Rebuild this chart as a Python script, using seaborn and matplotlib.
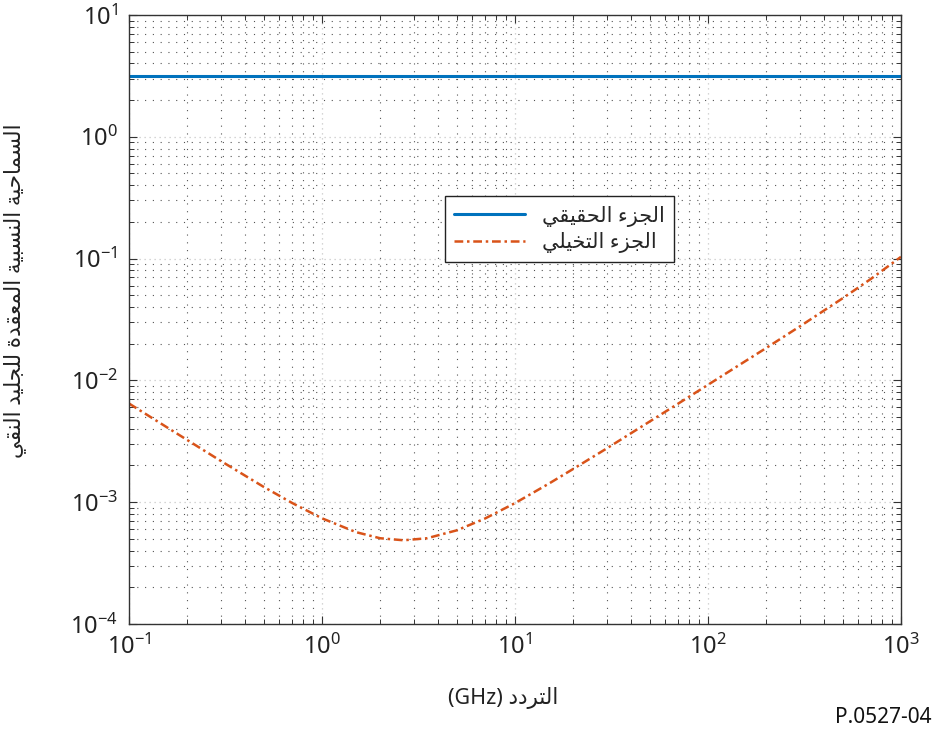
import numpy as np
import pandas as pd
import matplotlib
matplotlib.use("Agg")
import matplotlib.pyplot as plt
import seaborn as sns
from matplotlib.ticker import LogLocator, NullFormatter

# Werte
freq_real = [0.1, 1000]
eps_real = [3.17, 3.17]

freq_imag = [0.1, 0.15, 0.2, 0.3, 0.5, 0.7, 1, 1.5, 2, 2.65, 3.5, 5, 7, 10,
             15, 20, 30, 50, 70, 100, 150, 200, 300, 500, 700, 1000]
eps_imag = [0.00645, 0.00431, 0.00324, 0.00217, 0.00133, 0.000984, 0.000736,
            0.000567, 0.000505, 0.000486, 0.000505, 0.000587, 0.000734,
            0.000981, 0.00142, 0.00187, 0.00277, 0.0046, 0.00643, 0.00919,
            0.0138, 0.0184, 0.0278, 0.0473, 0.0682, 0.1033]

label_real = "الجزء الحقيقي"
label_imag = "الجزء التخيلي"
xlabel = "التردد"
ylabel = "السماحية النسبية المعقدة للجليد النقي"

# Arabische Buchstaben: isoliert, final, initial, medial
FORMS = {
    'ا': ('\uFE8D', '\uFE8E', None, None),
    'ء': ('\uFE80', None, None, None),
    'ب': ('\uFE8F', '\uFE90', '\uFE91', '\uFE92'),
    'ة': ('\uFE93', '\uFE94', None, None),
    'ت': ('\uFE95', '\uFE96', '\uFE97', '\uFE98'),
    'ج': ('\uFE9D', '\uFE9E', '\uFE9F', '\uFEA0'),
    'ح': ('\uFEA1', '\uFEA2', '\uFEA3', '\uFEA4'),
    'خ': ('\uFEA5', '\uFEA6', '\uFEA7', '\uFEA8'),
    'د': ('\uFEA9', '\uFEAA', None, None),
    'ر': ('\uFEAD', '\uFEAE', None, None),
    'ز': ('\uFEAF', '\uFEB0', None, None),
    'س': ('\uFEB1', '\uFEB2', '\uFEB3', '\uFEB4'),
    'ع': ('\uFEC9', '\uFECA', '\uFECB', '\uFECC'),
    'ق': ('\uFED5', '\uFED6', '\uFED7', '\uFED8'),
    'ل': ('\uFEDD', '\uFEDE', '\uFEDF', '\uFEE0'),
    'م': ('\uFEE1', '\uFEE2', '\uFEE3', '\uFEE4'),
    'ن': ('\uFEE5', '\uFEE6', '\uFEE7', '\uFEE8'),
    'ي': ('\uFEF1', '\uFEF2', '\uFEF3', '\uFEF4'),
}


def shape(text):
    out = []
    for i, ch in enumerate(text):
        if ch not in FORMS:
            out.append(ch)
            continue
        prev = text[i - 1] if i > 0 else None
        nxt = text[i + 1] if i + 1 < len(text) else None
        j_prev = (prev in FORMS and FORMS[prev][2] is not None
                  and FORMS[ch][1] is not None)
        j_next = (nxt in FORMS and FORMS[ch][2] is not None
                  and FORMS[nxt][1] is not None)
        iso, fin, ini, med = FORMS[ch]
        if j_prev and j_next:
            out.append(med)
        elif j_prev:
            out.append(fin)
        elif j_next:
            out.append(ini)
        else:
            out.append(iso)
    return "".join(out)[::-1]


sns.set_style("ticks")
plt.rcParams['font.family'] = ['Noto Sans', 'DejaVu Sans']
plt.rcParams['mathtext.fontset'] = 'custom'
plt.rcParams['mathtext.rm'] = 'Noto Sans'

fig = plt.figure(figsize=(9.35, 7.34), dpi=100)
ax = fig.add_axes([0.138, 0.150, 0.8256, 0.8296])

df_real = pd.DataFrame({"f": freq_real, "eps": eps_real})
df_imag = pd.DataFrame({"f": freq_imag, "eps": eps_imag})

sns.lineplot(data=df_real, x="f", y="eps", ax=ax, color="#0072BD",
             linewidth=2.2, label=shape(label_real))
sns.lineplot(data=df_imag, x="f", y="eps", ax=ax, color="#D95319",
             linewidth=1.8, linestyle=(0, (3.5, 1.5, 1, 1.5)),
             label=shape(label_imag))

ax.set_xscale("log")
ax.set_yscale("log")
ax.set_xlim(0.1, 1000)
ax.set_ylim(1e-4, 10)

ax.xaxis.set_major_locator(LogLocator(base=10, numticks=10))
ax.yaxis.set_major_locator(LogLocator(base=10, numticks=10))
ax.xaxis.set_minor_locator(LogLocator(base=10, subs=np.arange(2, 10), numticks=20))
ax.yaxis.set_minor_locator(LogLocator(base=10, subs=np.arange(2, 10), numticks=20))
ax.xaxis.set_minor_formatter(NullFormatter())
ax.yaxis.set_minor_formatter(NullFormatter())

ax.grid(True, which="major", linestyle=(0, (1, 3)), color="#c8c8c8", linewidth=0.9)
ax.grid(True, which="minor", linestyle=(0, (1, 6)), color="#555555", linewidth=0.8)

ax.tick_params(which="both", direction="in", top=True, right=True,
               colors="#333333", labelcolor="#222222")
ax.tick_params(which="major", length=6, width=0.8, labelsize=17, pad=8)
ax.tick_params(which="minor", length=3.5, width=0.7)
for sp in ax.spines.values():
    sp.set_visible(True)
    sp.set_color("#333333")
    sp.set_linewidth(1.0)

ax.set_xlabel("(GHz) " + shape(xlabel), fontsize=15.5, color="#222222")
ax.set_ylabel(shape(ylabel), fontsize=15.5, color="#222222")
ax.xaxis.set_label_coords(0.485, -0.103)
ax.yaxis.set_label_coords(-0.134, 0.548)

leg = ax.legend(loc="center", bbox_to_anchor=(0.5577, 0.648), fontsize=15,
                frameon=True, fancybox=False, handlelength=3.4,
                borderpad=0.45, labelspacing=0.25, handletextpad=0.8)
leg.get_frame().set_edgecolor("#222222")
leg.get_frame().set_linewidth(1.0)
leg.get_frame().set_alpha(1.0)

fig.text(0.996, 0.022, "P.0527-04", ha="right", va="center", fontsize=15,
         color="#111111")

fig.savefig("out.png", dpi=100)
